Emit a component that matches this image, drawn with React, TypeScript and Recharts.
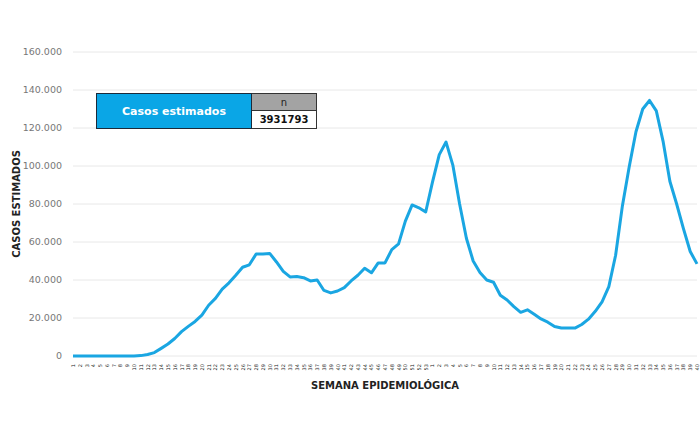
import React from 'react';
import { LineChart, Line, XAxis, YAxis, CartesianGrid, Label } from 'recharts';

// semanas epidemiológicas: 2020 (1-53) y 2021 (1-40)
const weeks2020 = Array.from({ length: 53 }, (_, i) => String(i + 1));
const weeks2021 = Array.from({ length: 40 }, (_, i) => String(i + 1));
const weekLabels = [...weeks2020, ...weeks2021];

const casos = [
  0, 0, 0, 0, 0, 0, 0, 0, 0, 0,
  200, 800, 1800, 4000, 6300, 9200, 12800, 15600, 18200, 21500,
  26700, 30300, 35200, 38500, 42500, 46700, 48000, 53700, 53700, 54000,
  49500, 44500, 41600, 41800, 41200, 39500, 40000, 34500, 33200, 34200,
  36000, 39500, 42500, 46200, 43800, 49000, 49000, 56000, 59000, 71000,
  79500, 78000, 75800, 91500, 106000, 112600, 100500, 80000, 62000, 50000,
  44000, 40000, 38800, 32000, 29500, 26000, 23000, 24300, 22000, 19500,
  17800, 15500, 14700, 14700, 14700, 16600, 19400, 23500, 28500, 36500,
  53000, 79000, 99500, 118000, 130000, 134500, 129000, 113000, 92000, 80000,
  67000, 55000, 48500,
];

const yTicks = [0, 20000, 40000, 60000, 80000, 100000, 120000, 140000, 160000];
const totalCasos = '3931793';

const data = casos.map((v, i) => ({ idx: i, semana: weekLabels[i], casos: v }));

const fmt = (v: number) => String(v).replace(/\B(?=(\d{3})+(?!\d))/g, '.');

const font = '"DejaVu Sans", sans-serif';

function WeekTick(props: any) {
  const { x, y, payload } = props;
  return (
    <text
      x={x}
      y={y}
      transform={`rotate(-90, ${x}, ${y})`}
      textAnchor="end"
      dominantBaseline="central"
      fontSize={5}
      fill="#222"
      fontFamily={font}
    >
      {weekLabels[payload.value]}
    </text>
  );
}

export default function App() {
  return (
    <div style={{ position: 'absolute', left: 0, top: 0, width: 700, height: 440, background: '#fff' }}>
      <LineChart width={700} height={440} data={data} margin={{ top: 52, right: 3, left: 0, bottom: 50 }}>
        <CartesianGrid horizontal vertical={false} stroke="#e8e8e8" />
        <XAxis
          dataKey="idx"
          type="number"
          domain={[0, casos.length - 1]}
          ticks={data.map((d) => d.idx)}
          interval={0}
          tick={<WeekTick />}
          tickLine={false}
          axisLine={false}
          height={34}
        >
          <Label
            value="SEMANA EPIDEMIOLÓGICA"
            position="insideBottom"
            offset={1}
            style={{ fontFamily: font, fontSize: 10, fontWeight: 700, fill: '#222' }}
          />
        </XAxis>
        <YAxis
          domain={[0, 160000]}
          ticks={yTicks}
          tickFormatter={fmt}
          tickLine={false}
          axisLine={false}
          width={73}
          tickMargin={5}
          tick={{ fontSize: 9.5, fill: '#777', fontFamily: font }}
        >
          <Label
            content={() => (
              <text
                x={16}
                y={204}
                transform="rotate(-90, 16, 204)"
                textAnchor="middle"
                dominantBaseline="central"
                fontSize={10}
                fontWeight={700}
                fill="#222"
                fontFamily={font}
              >
                CASOS ESTIMADOS
              </text>
            )}
          />
        </YAxis>
        <Line
          type="linear"
          dataKey="casos"
          stroke="#1aa6e2"
          strokeWidth={3}
          dot={false}
          strokeLinejoin="round"
          isAnimationActive={false}
        />
      </LineChart>
      <div
        style={{
          position: 'absolute',
          left: 96,
          top: 93,
          display: 'flex',
          fontFamily: font,
        }}
      >
        <div
          style={{
            width: 154,
            height: 34,
            background: '#0aa6e6',
            border: '1.5px solid #1b2a3a',
            color: '#fff',
            fontWeight: 700,
            fontSize: 11,
            display: 'flex',
            alignItems: 'center',
            justifyContent: 'center',
          }}
        >
          Casos estimados
        </div>
        <div style={{ display: 'flex', flexDirection: 'column' }}>
          <div
            style={{
              width: 64,
              height: 16,
              background: '#a3a3a3',
              border: '1px solid #333',
              borderLeft: 'none',
              fontSize: 10,
              color: '#222',
              display: 'flex',
              alignItems: 'center',
              justifyContent: 'center',
            }}
          >
            n
          </div>
          <div
            style={{
              width: 64,
              height: 17,
              background: '#fff',
              border: '1px solid #333',
              borderLeft: 'none',
              borderTop: 'none',
              fontSize: 10,
              fontWeight: 600,
              color: '#111',
              display: 'flex',
              alignItems: 'center',
              justifyContent: 'center',
            }}
          >
            {totalCasos}
          </div>
        </div>
      </div>
    </div>
  );
}
